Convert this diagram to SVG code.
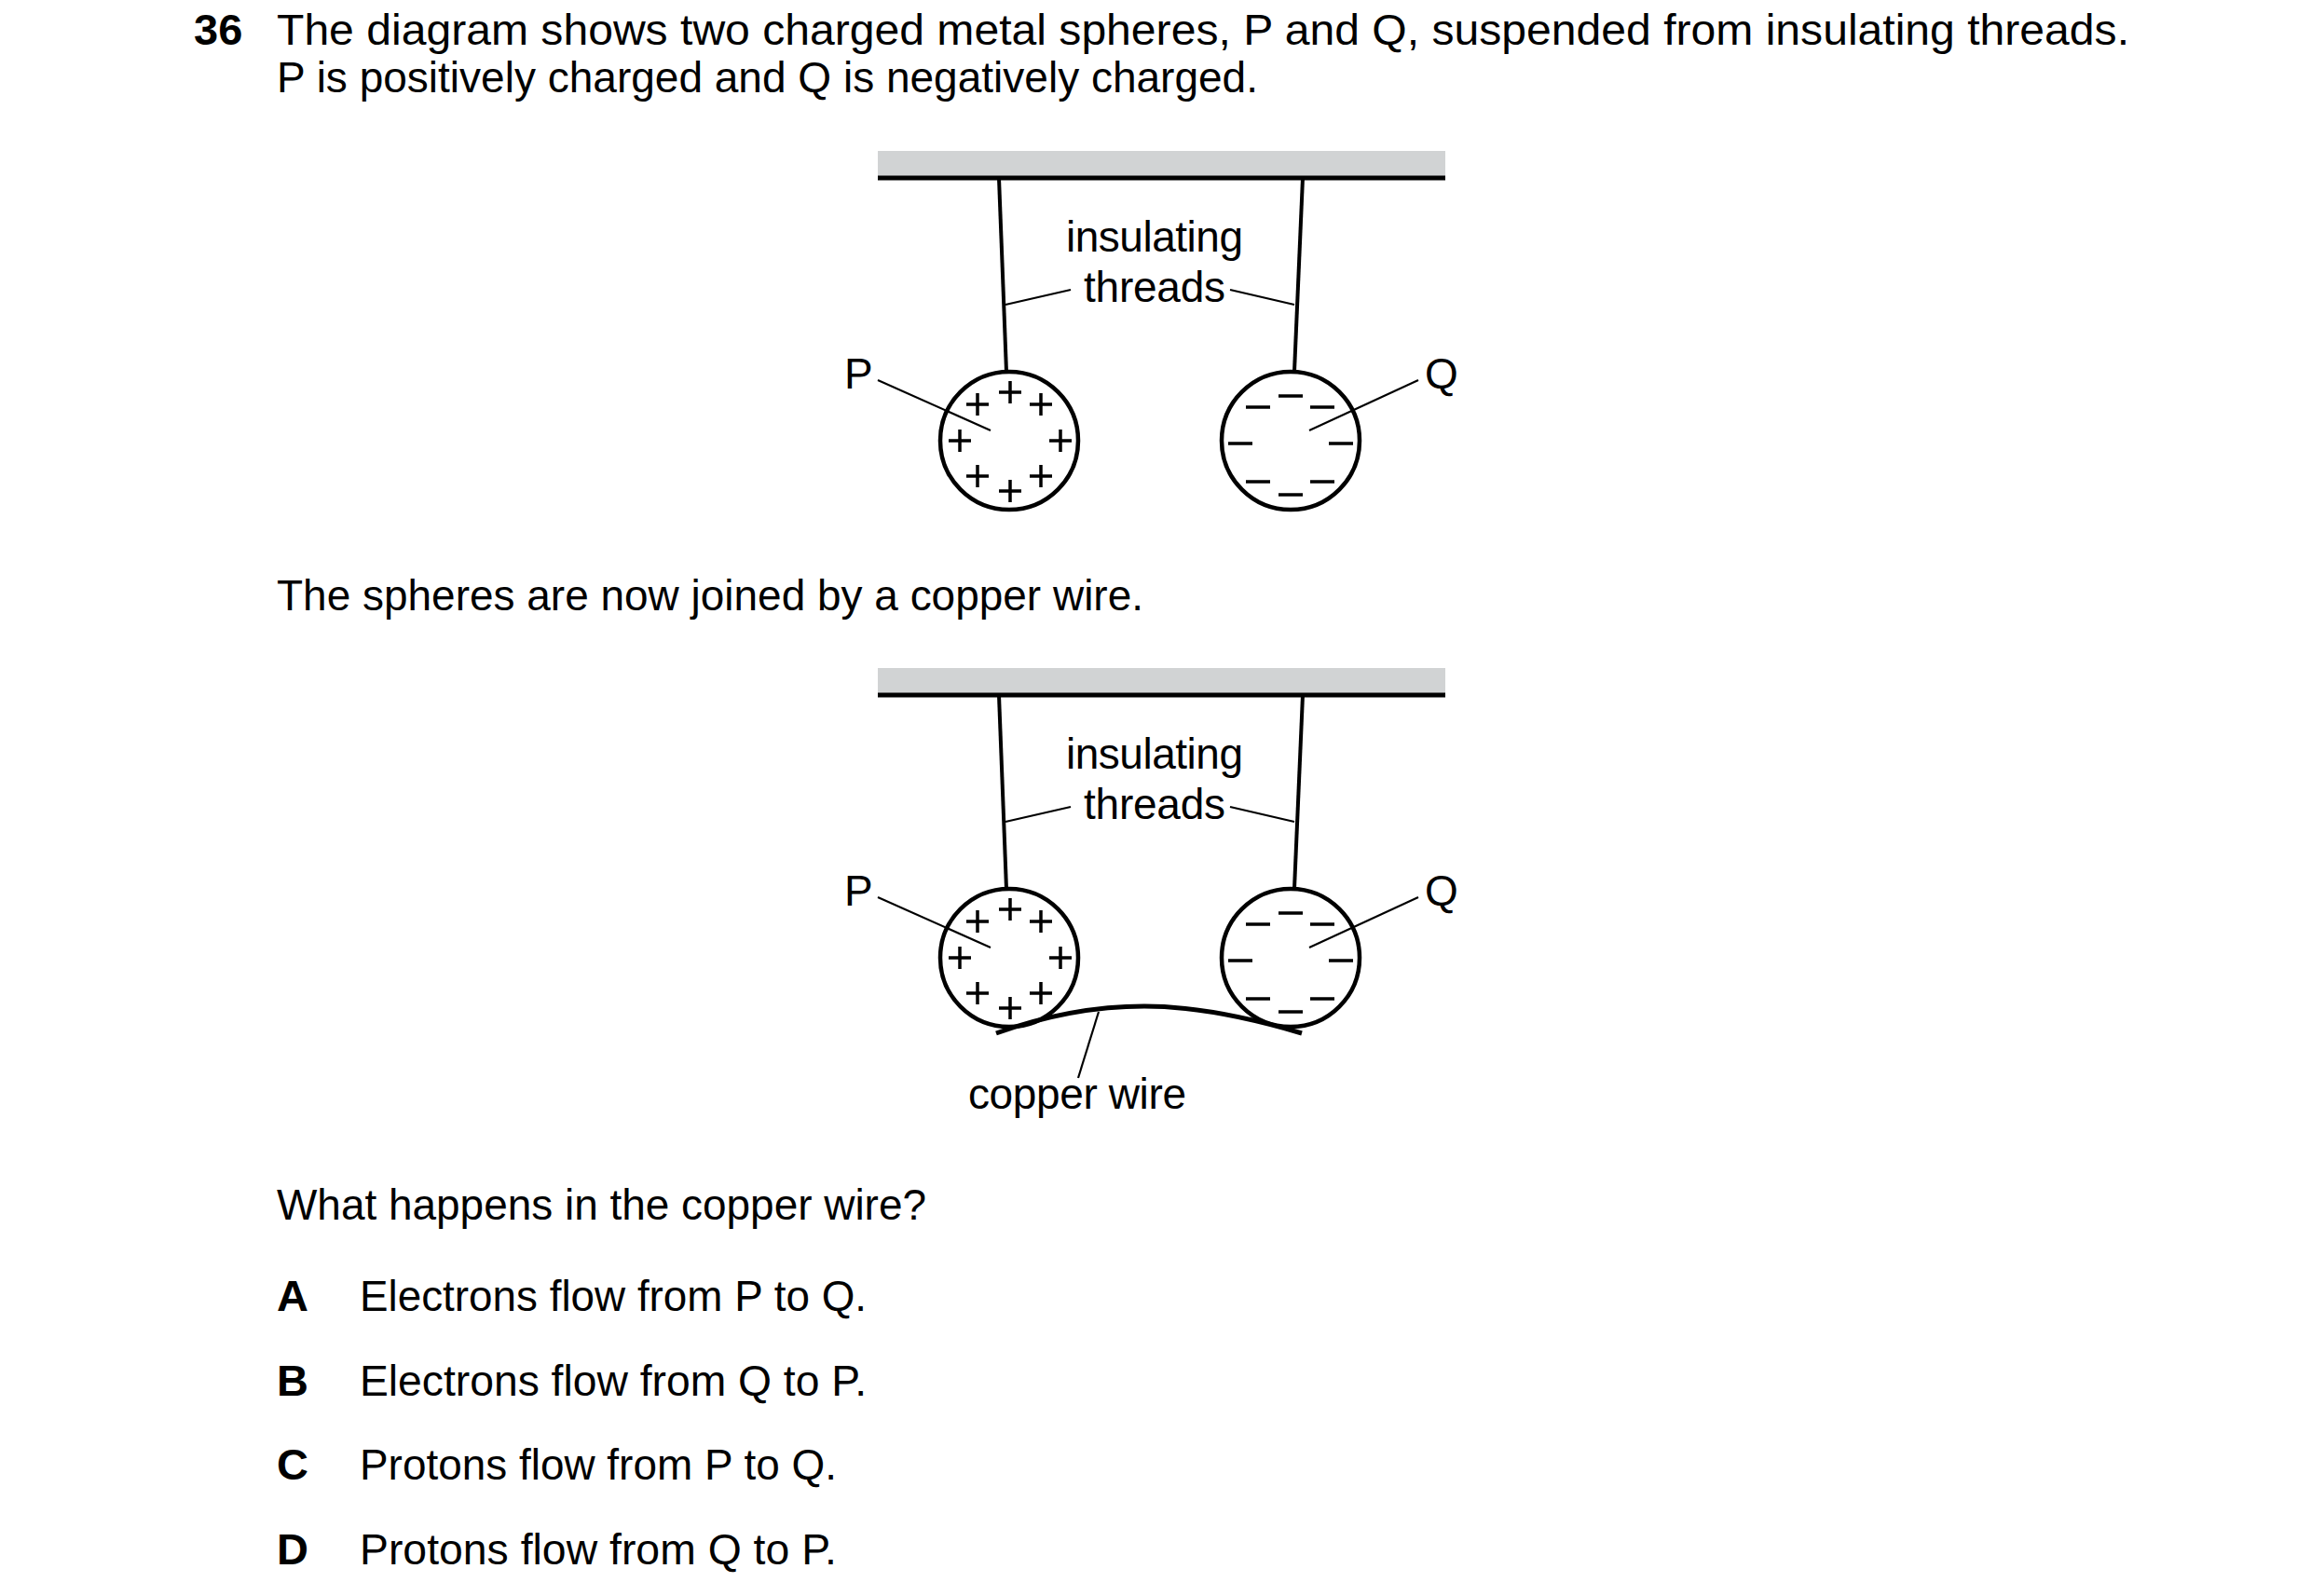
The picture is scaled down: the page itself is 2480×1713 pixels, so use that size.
<svg xmlns="http://www.w3.org/2000/svg" width="2480" height="1713" viewBox="0 0 2480 1713">
<style>
text{font-family:"Liberation Sans",Arial,sans-serif;fill:#000}
.t{font-size:47px}
.b{font-size:47px;font-weight:bold}
.l{font-size:46px}
.th{stroke:#000;stroke-width:4;fill:none}
.ld{stroke:#000;stroke-width:2.2;fill:none}
.sp{stroke:#000;stroke-width:4.5;fill:#fff}
.sg{stroke:#000;stroke-width:3.5;fill:none}
</style>
<defs>
<g id="plus"><path class="sg" d="M-12 0H12M0 -12V12"/></g>
<g id="minus"><path class="sg" d="M-13 0H13"/></g>
<g id="setup">
<rect x="946" y="162" width="609" height="29" fill="#d1d3d4"/>
<line x1="946" y1="191" x2="1555" y2="191" stroke="#000" stroke-width="5"/>
<line class="th" x1="1076" y1="191" x2="1084" y2="399"/>
<line class="th" x1="1402" y1="191" x2="1393" y2="399"/>
<line class="ld" x1="1083" y1="327" x2="1153" y2="311"/>
<line class="ld" x1="1324" y1="311" x2="1393" y2="327"/>
<text class="l" x="1243" y="270" text-anchor="middle" textLength="190">insulating</text>
<text class="l" x="1243" y="324" text-anchor="middle" textLength="152">threads</text>
<circle class="sp" cx="1087" cy="473" r="74"/>
<circle class="sp" cx="1389" cy="473" r="74"/>
<use href="#plus" x="1088" y="421"/><use href="#plus" x="1053" y="434"/><use href="#plus" x="1121" y="434"/>
<use href="#plus" x="1034" y="473"/><use href="#plus" x="1142" y="473"/>
<use href="#plus" x="1053" y="511"/><use href="#plus" x="1121" y="511"/><use href="#plus" x="1088" y="527"/>
<use href="#minus" x="1389" y="425"/><use href="#minus" x="1354" y="437"/><use href="#minus" x="1423" y="437"/>
<use href="#minus" x="1335" y="476"/><use href="#minus" x="1443" y="476"/>
<use href="#minus" x="1354" y="517"/><use href="#minus" x="1423" y="517"/><use href="#minus" x="1389" y="531"/>
<line class="ld" x1="946" y1="408" x2="1067" y2="462"/>
<line class="ld" x1="1526" y1="408" x2="1409" y2="462"/>
<text class="l" x="910" y="417">P</text>
<text class="l" x="1533" y="417">Q</text>
</g>
</defs>
<g id="question">
<text class="b" x="208" y="48">36</text>
<text class="t" x="297" y="48" textLength="1988" lengthAdjust="spacingAndGlyphs">The diagram shows two charged metal spheres, P and Q, suspended from insulating threads.</text>
<text class="t" x="297" y="99" textLength="1053" lengthAdjust="spacingAndGlyphs">P is positively charged and Q is negatively charged.</text>
<text class="t" x="297" y="655" textLength="930" lengthAdjust="spacingAndGlyphs">The spheres are now joined by a copper wire.</text>
<text class="t" x="297" y="1309" textLength="697" lengthAdjust="spacingAndGlyphs">What happens in the copper wire?</text>
</g>
<g id="diagram1"><use href="#setup" x="-4"/></g>
<g id="diagram2">
<use href="#setup" x="-4" y="555"/>
<path d="M1069 1109 Q1150 1080 1228 1080 Q1300 1080 1397 1109" stroke="#000" stroke-width="5" fill="none"/>
<line class="ld" x1="1179" y1="1086" x2="1157" y2="1157"/>
<text class="l" x="1156" y="1190" text-anchor="middle" textLength="234">copper wire</text>
</g>
<g id="options">
<text class="b" x="297" y="1407">A</text><text class="t" x="386" y="1407" textLength="544" lengthAdjust="spacingAndGlyphs">Electrons flow from P to Q.</text>
<text class="b" x="297" y="1498">B</text><text class="t" x="386" y="1498" textLength="544" lengthAdjust="spacingAndGlyphs">Electrons flow from Q to P.</text>
<text class="b" x="297" y="1588">C</text><text class="t" x="386" y="1588" textLength="512" lengthAdjust="spacingAndGlyphs">Protons flow from P to Q.</text>
<text class="b" x="297" y="1679">D</text><text class="t" x="386" y="1679" textLength="512" lengthAdjust="spacingAndGlyphs">Protons flow from Q to P.</text>
</g>
</svg>
